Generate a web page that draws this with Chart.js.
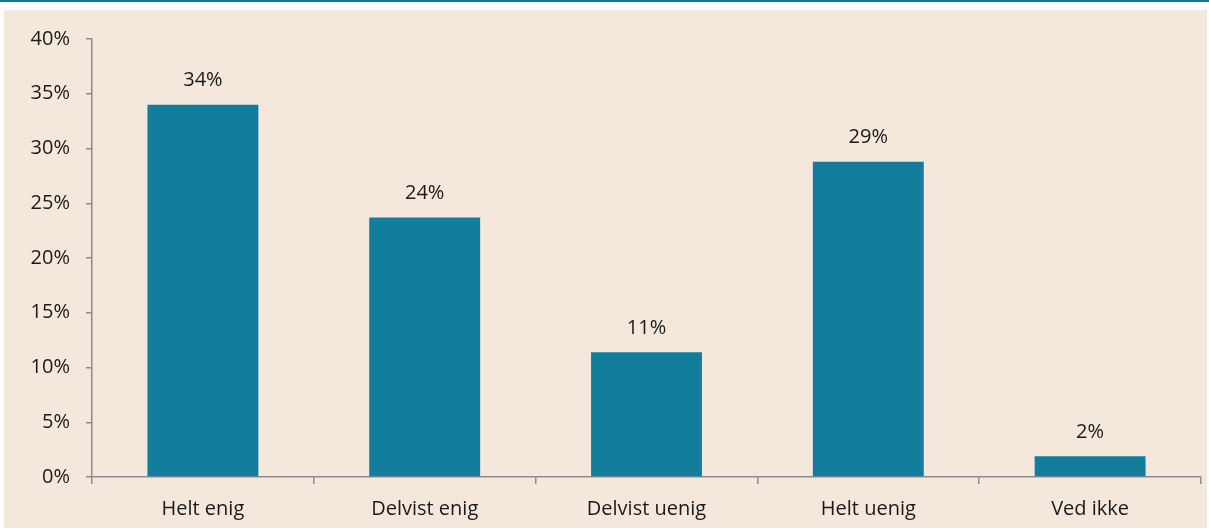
<!DOCTYPE html>
<html><head><meta charset="utf-8">
<script src="https://cdn.jsdelivr.net/npm/chart.js@4.4.0/dist/chart.umd.min.js"></script>
<style>
html,body{margin:0;padding:0;background:#fff;width:1209px;height:528px;overflow:hidden;}
#topline{position:absolute;left:0;top:0;width:1209px;height:2px;background:#0e7d94;}
#panel{position:absolute;left:4px;top:10px;width:1203px;height:518px;background:#f4e8dc;}
#wrap{position:absolute;left:0;top:0;width:1203px;height:518px;}
</style></head>
<body>
<div id="topline"></div>
<div id="panel"><div id="wrap"><canvas id="c"></canvas></div></div>
<script>
const categories = ["Helt enig", "Delvist enig", "Delvist uenig", "Helt uenig", "Ved ikke"];
const values = [34.0, 23.7, 11.4, 28.8, 1.9];
const labels = ["34%", "24%", "11%", "29%", "2%"];
const yTicks = [0, 5, 10, 15, 20, 25, 30, 35, 40];

const FONT = "'Open Sans', 'Noto Sans', sans-serif";
const axisColor = '#8c8c8c';
const textColor = '#1a1a1a';

const valueLabels = {
  id: 'valueLabels',
  afterDatasetsDraw(chart) {
    const ctx = chart.ctx;
    const meta = chart.getDatasetMeta(0);
    ctx.save();
    ctx.font = "20px " + FONT;
    ctx.fillStyle = textColor;
    ctx.textAlign = 'center';
    ctx.textBaseline = 'middle';
    meta.data.forEach((bar, i) => {
      ctx.fillText(labels[i], bar.x, bar.y - 24);
    });
    ctx.restore();
  }
};

new Chart(document.getElementById('c'), {
  type: 'bar',
  data: {
    labels: categories,
    datasets: [{
      data: values,
      backgroundColor: '#127e9b',
      categoryPercentage: 1.0,
      barPercentage: 0.5
    }]
  },
  options: {
    responsive: true,
    maintainAspectRatio: false,
    animation: false,
    devicePixelRatio: 1,
    layout: { padding: { left: 0, right: 6, top: 29, bottom: 0 } },
    plugins: { legend: { display: false }, tooltip: { enabled: false } },
    scales: {
      x: {
        grid: { display: true, drawOnChartArea: false, drawTicks: true, tickLength: 7, color: axisColor, lineWidth: 1.5, offset: true },
        border: { display: true, color: axisColor, width: 1.5 },
        ticks: { color: textColor, font: { family: FONT, size: 20 }, padding: 13 },
        afterFit(s) { s.height = 51; }
      },
      y: {
        min: 0, max: 40,
        afterBuildTicks(s) { s.ticks = yTicks.map(v => ({ value: v })); },
        grid: { display: true, drawOnChartArea: false, drawTicks: true, tickLength: 6, color: axisColor, lineWidth: 1.5 },
        border: { display: true, color: axisColor, width: 1.5 },
        ticks: { color: textColor, font: { family: FONT, size: 20 }, padding: 16, callback: v => v + '%' },
        afterFit(s) { s.width = 88; }
      }
    }
  },
  plugins: [valueLabels]
});
</script>
</body></html>
